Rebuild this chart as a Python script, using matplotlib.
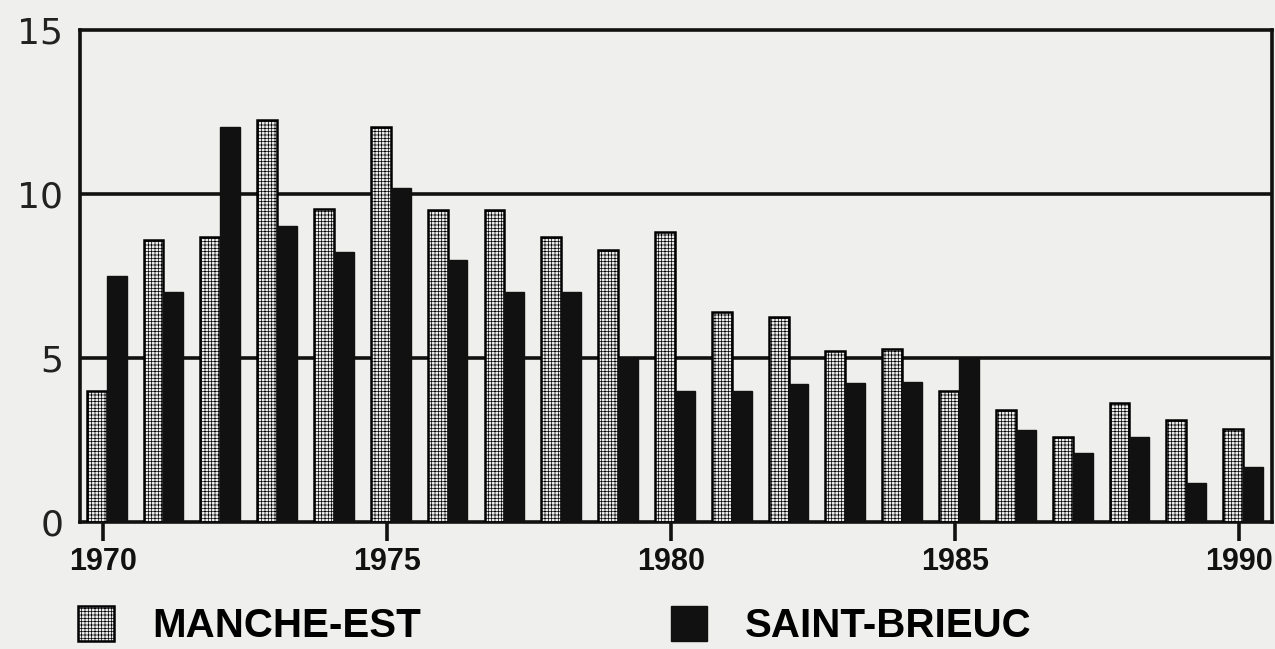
import numpy as np
import matplotlib
matplotlib.use("Agg")
import matplotlib.pyplot as plt

# values
years = np.arange(1970, 1991)
manche_est = [4.0, 8.6, 8.7, 12.25, 9.55, 12.05, 9.5, 9.5, 8.7, 8.3, 8.85,
              6.4, 6.25, 5.2, 5.27, 4.0, 3.4, 2.6, 3.62, 3.12, 2.85]
saint_brieuc = [7.5, 7.0, 12.05, 9.02, 8.22, 10.18, 8.0, 7.02, 7.02, 5.0, 4.0,
                4.0, 4.22, 4.25, 4.27, 5.0, 2.8, 2.1, 2.6, 1.2, 1.67]
xticks = [1970, 1975, 1980, 1985, 1990]
yticks = [0, 5, 10, 15]

bg = "#efefed"
plt.rcParams["hatch.linewidth"] = 0.5
plt.rcParams["hatch.color"] = "#444444"

fig = plt.figure(figsize=(12.75, 6.49), dpi=100, facecolor=bg)
ax = fig.add_axes([0.0627, 0.1957, 0.935, 0.758], facecolor=bg)

w = 0.35
off = 0.07
b1 = ax.bar(years + off - w / 2, manche_est, width=w, color="#ececec",
            edgecolor="black", linewidth=1.8, hatch="+++++", zorder=3,
            label="MANCHE-EST")
b2 = ax.bar(years + off + w / 2, saint_brieuc, width=w, color="#111111",
            edgecolor="#111111", linewidth=1.0, zorder=3,
            label="SAINT-BRIEUC")

# horizontal lines at 5 and 10
for v in [5, 10]:
    ax.axhline(v, color="#111111", linewidth=2.6, zorder=1)

ax.set_xlim(1969.6, 1990.58)
ax.set_ylim(0, 15)
for s in ax.spines.values():
    s.set_linewidth(2.6)
    s.set_color("#111111")

ax.set_xticks(xticks)
ax.set_xticklabels([str(x) for x in xticks], family="Liberation Sans",
                   fontweight="bold", fontsize=22)
ax.tick_params(axis="x", direction="out", length=14, width=2.6, pad=4,
               colors="#111111")
ax.set_yticks(yticks)
ax.set_yticklabels([str(y) for y in yticks], family="DejaVu Sans",
                   fontsize=26, color="#222222")
ax.tick_params(axis="y", length=0, pad=12)

fig.legend(handles=[b1, b2], loc="upper left", bbox_to_anchor=(0.061, 0.066),
           ncol=2, frameon=False, prop={"family": "Liberation Sans",
                                        "weight": "bold", "size": 29},
           handlelength=0.9, handleheight=0.95, handletextpad=0.95,
           columnspacing=6.2, borderaxespad=0, borderpad=0)

fig.savefig("out.png", dpi=100, facecolor=bg)
